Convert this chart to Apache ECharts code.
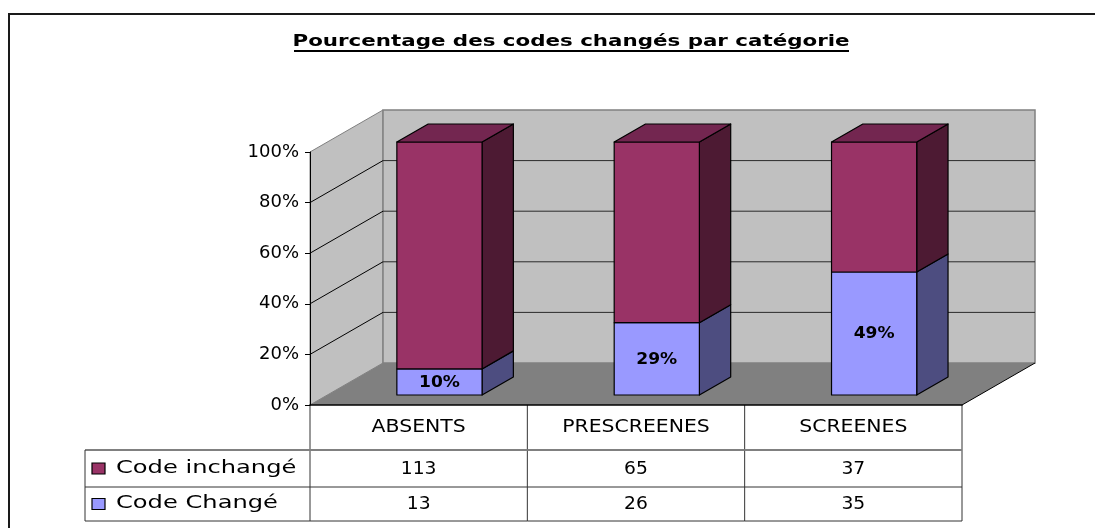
<!DOCTYPE html>
<html>
<head>
<meta charset="utf-8">
<script src="https://cdn.jsdelivr.net/npm/echarts@6/dist/echarts.min.js"></script>
<style>html,body{margin:0;padding:0;background:#fff;}#c{width:1095px;height:528px;}</style>
</head>
<body>
<div id="c"></div>
<script>
// ---- data ----
const categories = ['ABSENTS', 'PRESCREENES', 'SCREENES'];
const seriesNames = ['Code inchangé', 'Code Changé'];
const codeInchange = [113, 65, 37];
const codeChange = [13, 26, 35];
const yTicks = [0, 0.2, 0.4, 0.6, 0.8, 1];
const titleText = 'Pourcentage des codes changés par catégorie';

// ---- styling / geometry constants ----
const FONT = "'DejaVu Sans', sans-serif";
const DX = 73, DY = -42;            // depth vector of the 3D box
const F1 = 0.238, F2 = 0.667;       // bar front / back depth fractions
const COL = {
  wall: '#C0C0C0', wallEdge: '#808080', floor: '#808080',
  maroon: '#993366', maroonSide: '#4D1A33', maroonTop: '#732650',
  blue: '#9999FF', blueSide: '#4D4D80'
};
const HEADER_H = 45, ROW1_H = 37, ROW2_H = 34, LEGEND_LEFT = 85;

const pctChanged = codeChange.map((v, i) => v / (v + codeInchange[i]));

const chart = echarts.init(document.getElementById('c'), null, {renderer: 'canvas'});

function wallsRender(params, api) {
  const cs = params.coordSys;
  const x0 = cs.x, x1 = cs.x + cs.width, yt = cs.y, yb = cs.y + cs.height;
  const ch = [];
  ch.push({type: 'polygon', shape: {points: [[x0, yb], [x0, yt], [x0 + DX, yt + DY], [x0 + DX, yb + DY]]},
    style: {fill: COL.wall, stroke: COL.wallEdge, lineWidth: 1}});
  ch.push({type: 'polygon', shape: {points: [[x0 + DX, yt + DY], [x1 + DX, yt + DY], [x1 + DX, yb + DY], [x0 + DX, yb + DY]]},
    style: {fill: COL.wall, stroke: COL.wallEdge, lineWidth: 1.5}});
  ch.push({type: 'polygon', shape: {points: [[x0, yb], [x1, yb], [x1 + DX, yb + DY], [x0 + DX, yb + DY]]},
    style: {fill: COL.floor, stroke: null}});
  yTicks.forEach(v => {
    if (v <= 0 || v >= 1) return;
    const y = api.coord([0, v])[1];
    ch.push({type: 'line', shape: {x1: x0, y1: y, x2: x0 + DX, y2: y + DY}, style: {stroke: '#000', lineWidth: 1}});
    ch.push({type: 'line', shape: {x1: x0 + DX, y1: y + DY, x2: x1 + DX, y2: y + DY}, style: {stroke: '#2a2a2a', lineWidth: 1}});
  });
  ch.push({type: 'line', shape: {x1: x1, y1: yb, x2: x1 + DX, y2: yb + DY}, style: {stroke: '#000', lineWidth: 1}});
  return {type: 'group', children: ch};
}

function barsRender(params, api) {
  const i = api.value(0), p = api.value(1), top = api.value(2);
  const bw = api.size([1, 0])[0];
  const cx = api.coord([i, 0])[0];
  const half = bw * 0.196, off = bw * 0.0157;
  const fx = DX * F1, fy = DY * F1;
  const ddx = DX * (F2 - F1), ddy = DY * (F2 - F1);
  const y0 = api.coord([i, 0])[1] + fy;
  const ym = api.coord([i, p])[1] + fy;
  const y1 = api.coord([i, top])[1] + fy;
  const xl = cx - half + off + fx, xr = xl + 2 * half;
  const st = (f) => ({fill: f, stroke: '#000', lineWidth: 1.2, lineJoin: 'round'});
  const ch = [
    {type: 'polygon', shape: {points: [[xr, y0], [xr, ym], [xr + ddx, ym + ddy], [xr + ddx, y0 + ddy]]}, style: st(COL.blueSide)},
    {type: 'rect', shape: {x: xl, y: ym, width: xr - xl, height: y0 - ym}, style: st(COL.blue)},
    {type: 'polygon', shape: {points: [[xr, ym], [xr, y1], [xr + ddx, y1 + ddy], [xr + ddx, ym + ddy]]}, style: st(COL.maroonSide)},
    {type: 'rect', shape: {x: xl, y: y1, width: xr - xl, height: ym - y1}, style: st(COL.maroon)},
    {type: 'polygon', shape: {points: [[xl, y1], [xr, y1], [xr + ddx, y1 + ddy], [xl + ddx, y1 + ddy]]}, style: st(COL.maroonTop)},
    {type: 'text', x: (xl + xr) / 2, y: (y0 + ym) / 2 + 1, scaleX: 1.14,
      style: {text: Math.round(p * 100) + '%', x: 0, y: 0, fill: '#000', font: 'bold 15px ' + FONT,
        textAlign: 'center', textVerticalAlign: 'middle'}}
  ];
  return {type: 'group', children: ch};
}

function tableRender(params, api) {
  const i = api.value(0);
  const cs = params.coordSys;
  const bw = api.size([1, 0])[0];
  const cx = api.coord([i, 0])[0];
  const l = cx - bw / 2, r = cx + bw / 2;
  const yTop = cs.y + cs.height;
  const yR1 = yTop + HEADER_H, yR2 = yR1 + ROW1_H, yEnd = yR2 + ROW2_H;
  const dark = '#333';
  const ch = [];
  const line = (x1, y1, x2, y2, c, w) => ch.push({type: 'line', shape: {x1, y1, x2, y2}, style: {stroke: c, lineWidth: w || 1}});
  const txt = (s, x, y, sx, align) => ch.push({type: 'text', x, y, scaleX: sx,
    style: {text: s, x: 0, y: 0, fill: '#000', font: '17px ' + FONT, textAlign: align || 'center', textVerticalAlign: 'middle'}});
  line(r, yTop, r, yEnd, dark);
  if (i === 0) {
    line(l, yTop, l, yEnd, dark);
    line(LEGEND_LEFT, yR1, l, yR1, '#808080', 2);
    line(LEGEND_LEFT, yR2, l, yR2, dark);
    line(LEGEND_LEFT, yEnd, l, yEnd, dark);
    line(LEGEND_LEFT, yR1, LEGEND_LEFT, yEnd, dark);
    const rows = [[seriesNames[0], COL.maroon, (yR1 + yR2) / 2], [seriesNames[1], COL.blue, (yR2 + yEnd) / 2]];
    rows.forEach(([name, c, yc]) => {
      ch.push({type: 'rect', shape: {x: LEGEND_LEFT + 7, y: yc - 5.5, width: 13, height: 11}, style: {fill: c, stroke: '#000', lineWidth: 1.2}});
      txt(name, LEGEND_LEFT + 31, yc, 1.42, 'left');
    });
  }
  line(l, yR1, r, yR1, '#808080', 2);
  line(l, yR2, r, yR2, dark);
  line(l, yEnd, r, yEnd, dark);
  txt(categories[i], cx, (yTop + yR1) / 2, 1.2);
  txt(String(codeInchange[i]), cx, (yR1 + yR2) / 2 + 1, 1.1);
  txt(String(codeChange[i]), cx, (yR2 + yEnd) / 2 + 1, 1.1);
  return {type: 'group', children: ch};
}

const option = {
  backgroundColor: '#fff',
  animation: false,
  grid: {left: 310, top: 152, right: 133, bottom: 123, containLabel: false},
  xAxis: {
    type: 'category', data: categories, z: 6,
    axisLine: {show: true, lineStyle: {color: '#000', width: 1.5}},
    axisTick: {show: false}, axisLabel: {show: false}, splitLine: {show: false}
  },
  yAxis: {
    type: 'value', min: 0, max: 1, interval: 0.2, z: 6,
    axisLine: {show: true, lineStyle: {color: '#000', width: 1}},
    axisTick: {show: true, length: 5, lineStyle: {color: '#000'}},
    axisLabel: {formatter: v => Math.round(v * 100) + '%', fontSize: 18, fontFamily: FONT, color: '#000', margin: 11},
    splitLine: {show: false}
  },
  graphic: [
    {type: 'rect', shape: {x: 9, y: 14, width: 1200, height: 700}, style: {fill: null, stroke: '#1a1a1a', lineWidth: 2}, z: 100},
    {type: 'text', x: 571, y: 42, scaleX: 1.425, z: 100,
      style: {text: titleText, x: 0, y: 0, fill: '#000', font: 'bold 15px ' + FONT, textAlign: 'center', textVerticalAlign: 'middle'}},
    {type: 'line', shape: {x1: 294, y1: 51, x2: 849, y2: 51}, style: {stroke: '#000', lineWidth: 2}, z: 100}
  ],
  series: [
    {type: 'custom', name: 'walls', z: 1, silent: true, clip: false, renderItem: wallsRender, data: [[0, 0]]},
    {type: 'custom', name: seriesNames.join(' / '), z: 3, silent: true, clip: false, renderItem: barsRender,
      data: categories.map((c, i) => [i, pctChanged[i], 1])},
    {type: 'custom', name: 'table', z: 3, silent: true, clip: false, renderItem: tableRender,
      data: categories.map((c, i) => [i])}
  ]
};
chart.setOption(option);
</script>
</body>
</html>
